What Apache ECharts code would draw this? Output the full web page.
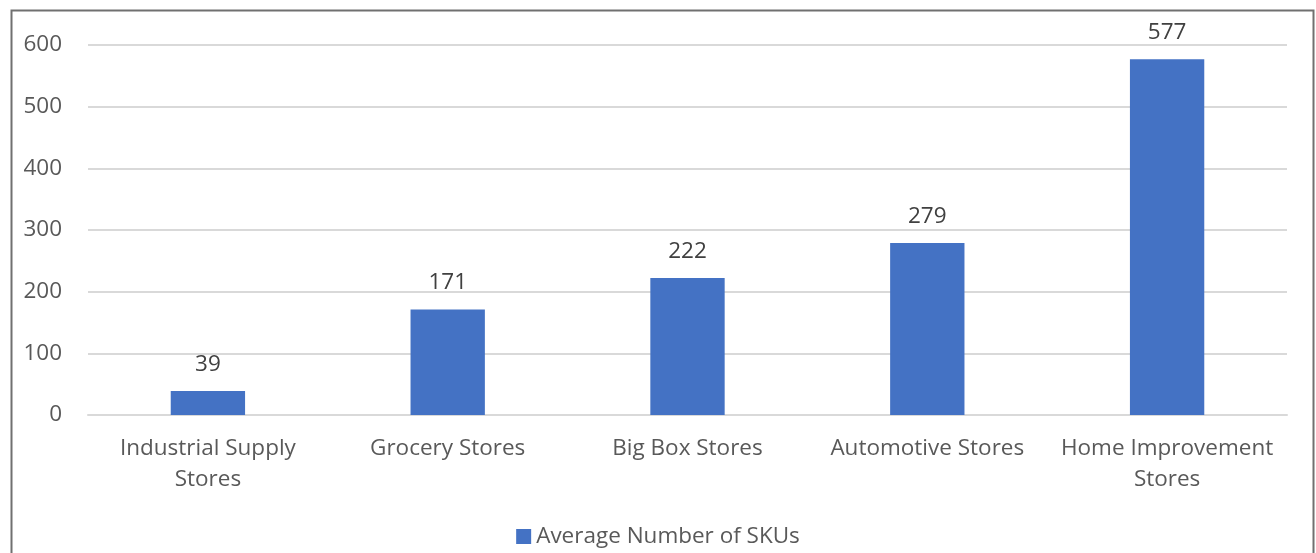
<!DOCTYPE html>
<html>
<head>
<meta charset="utf-8">
<script src="https://cdn.jsdelivr.net/npm/echarts@6/dist/echarts.min.js"></script>
<style>
  html, body { margin: 0; padding: 0; background: #fff; }
  #chart { width: 1316px; height: 553px; }
</style>
</head>
<body>
<div id="chart"></div>
<script>
// 类别与数值
var categories = ['Industrial Supply\nStores', 'Grocery Stores', 'Big Box Stores', 'Automotive Stores', 'Home Improvement\nStores'];
var skuValues = [39, 171, 222, 279, 577];
var seriesName = 'Average Number of SKUs';

var chart = echarts.init(document.getElementById('chart'));
var option = {
    textStyle: { fontFamily: 'Open Sans' },
    // 外框
    graphic: [{
        type: 'rect',
        left: 9, top: 8,
        shape: { width: 1302, height: 600 },
        style: { fill: 'none', stroke: '#707070', lineWidth: 2 },
        silent: true
    }],
    legend: {
        bottom: 0,
        left: 'center',
        itemWidth: 15,
        itemHeight: 15,
        itemGap: 6,
        icon: 'rect',
        textStyle: { color: '#595959', fontSize: 22.5, fontFamily: 'Open Sans' }
    },
    grid: {
        left: 88,
        right: 29,
        top: 45,
        bottom: 138
    },
    xAxis: {
        type: 'category',
        data: categories,
        axisLine: { lineStyle: { color: '#d9d9d9', width: 2 } },
        axisTick: { show: false },
        axisLabel: {
            color: '#595959',
            fontSize: 22.5,
            lineHeight: 31,
            margin: 18,
            interval: 0
        }
    },
    yAxis: {
        type: 'value',
        min: 0,
        max: 600,
        interval: 100,
        axisLine: { show: false },
        axisTick: { show: false },
        axisLabel: { color: '#595959', fontSize: 22.5, margin: 26 },
        splitLine: { lineStyle: { color: '#d9d9d9', width: 2 } }
    },
    series: [{
        name: seriesName,
        type: 'bar',
        data: skuValues,
        barWidth: '31%',
        itemStyle: { color: '#4472C4' },
        label: {
            show: true,
            position: 'top',
            distance: 15,
            color: '#404040',
            fontSize: 22.5
        }
    }]
};
chart.setOption(option);
</script>
</body>
</html>
